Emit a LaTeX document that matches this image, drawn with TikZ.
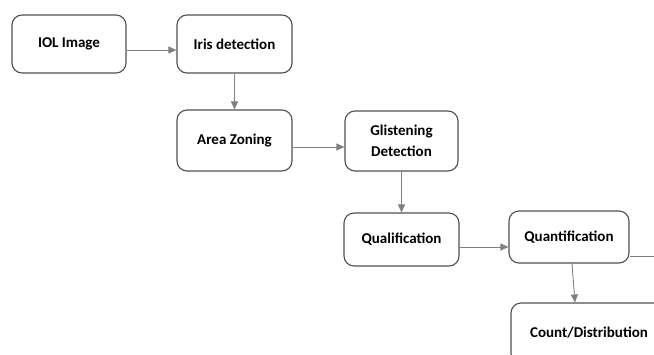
\documentclass[tikz,border=0pt]{standalone}
\usepackage{fontspec}
\setmainfont{Carlito}
\usepackage{tikz}
\usetikzlibrary{arrows.meta, positioning, calc}
\definecolor{boxline}{RGB}{80,80,80}
\definecolor{arrowgray}{RGB}{128,128,128}

\tikzset{
    stepbox/.style={draw=boxline, line width=1.1pt, rounded corners=10pt, fill=white,
        align=center, font=\bfseries\fontsize{15}{21}\selectfont, inner sep=2pt},
    flow/.style={draw=arrowgray, line width=0.9pt, -{Triangle[length=8pt, width=7pt]}}
}

\begin{document}
\begin{tikzpicture}[x=1pt, y=-1pt]
    \clip (0,0) rectangle (654,354);
    \useasboundingbox (0,0) rectangle (654,354);

    % --- Processing steps ---
    \node[stepbox, minimum width=114pt, minimum height=58pt] (iol) at (69,44) {IOL Image};
    \node[stepbox, minimum width=115pt, minimum height=58pt] (iris) at (234.5,44) {Iris detection};
    \node[stepbox, minimum width=115pt, minimum height=61pt] (zoning) at (234.5,140.5) {Area Zoning};
    \node[stepbox, minimum width=113pt, minimum height=60pt] (glisten) at (401.5,141) {Glistening\\Detection};
    \node[stepbox, minimum width=115pt, minimum height=53pt] (qual) at (401.5,239.5) {Qualification};
    \node[stepbox, minimum width=120pt, minimum height=52pt] (quant) at (569,237) {Quantification};
    \node[stepbox, minimum width=156pt, minimum height=60pt] (count) at (589,333) {Count/Distribution};
    \coordinate (exit) at (670,256);

    % --- Connectors ---
    \draw[flow] ([yshift=-6pt]iol.east) -- ([yshift=-6pt]iris.west);
    \draw[flow] (iris.south) -- (zoning.north);
    \draw[flow] ([yshift=-6.5pt]zoning.east) -- ([yshift=-6pt]glisten.west);
    \draw[flow] (glisten.south) -- (qual.north);
    \draw[flow] ([yshift=-7.5pt]qual.east) -- ([yshift=-10pt]quant.west);
    \draw[flow] ([xshift=3pt]quant.south) -- ([xshift=-14pt]count.north);
    \draw[draw=arrowgray, line width=0.9pt] (quant.east |- exit) -- (exit);
\end{tikzpicture}
\end{document}
